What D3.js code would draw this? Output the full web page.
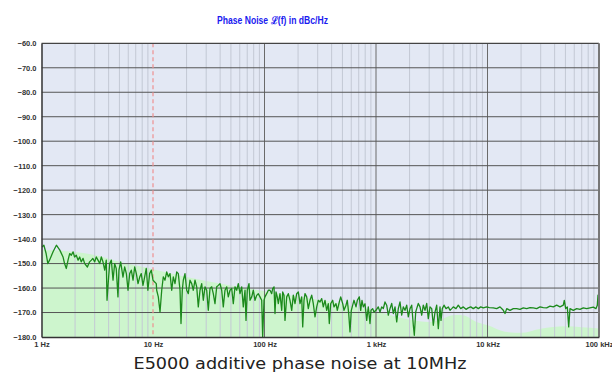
<!DOCTYPE html>
<html>
<head>
<meta charset="utf-8">
<script src="https://cdn.jsdelivr.net/npm/d3@7"></script>
<style>
  body { margin: 0; background: #fff; }
  svg { display: block; }
</style>
</head>
<body>
<svg id="chart" width="612" height="372"></svg>
<script>
// measured trace, offset frequency (Hz) and L(f) (dBc/Hz)
const traceFreq = [
  1.01, 1.05, 1.10, 1.14, 1.18, 1.27, 1.36, 1.46, 1.56, 1.61, 1.67, 1.73, 1.79, 1.85, 1.92, 1.98,
  2.05, 2.13, 2.2, 2.27, 2.36, 2.44, 2.58, 2.70, 2.80, 2.89, 3.0, 3.1, 3.21, 3.33, 3.44, 3.56,
  3.69, 3.81, 3.87, 4.0, 4.09, 4.23, 4.38, 4.53, 4.68, 4.85, 4.95, 5.13, 5.38, 5.57, 5.77, 5.97,
  6.18, 6.39, 6.62, 6.85, 7.09, 7.34, 7.6, 7.85, 8.13, 8.41, 8.7, 9.0, 9.33, 9.65, 10.0, 10.7,
  10.79, 11.16, 11.56, 11.97, 12.37, 12.81, 13.27, 13.72, 14.21, 14.72, 15.21, 15.75, 16.32, 16.86, 17.47, 17.83,
  18.31, 18.70, 19.36, 20.06, 20.73, 21.46, 22.24, 22.98, 23.81, 24.66, 25.48, 26.40, 27.34, 28.26, 29.27, 30.31,
  31.33, 32.45, 33.61, 34.73, 35.97, 37.26, 38.52, 39.90, 41.32, 42.71, 44.23, 45.81, 47.35, 49.05, 50.80, 52.51,
  54.38, 56.32, 58.21, 60.29, 62.44, 64.54, 66.86, 68.26, 70.1, 72.6, 74.1, 76.8, 79.4, 82.2, 85.1, 88.0,
  91.1, 94.4, 96.3, 99.0, 101.0, 104.6, 108.2,
  112.0, 116.0, 118.4, 121.7, 124.2, 126.8, 130.2, 133.0, 137.7, 142.7, 145.6, 149.6, 152.7, 158.2, 163.5, 169.3,
  175.4, 181.3, 187.7, 194.4, 201.0, 208.2, 215.6, 220.1, 226.1, 230.8, 239.0, 247.1, 255.9, 265.1, 274.0, 283.8,
  293.9, 303.8, 314.6, 325.9, 336.8, 348.8, 361.3, 373.4, 381.2, 392.3, 408.9, 420.1, 437.8, 449.7, 468.7, 482.5,
  502.9, 516.4, 538.2, 552.8, 569.1, 584.6, 600.6, 618.1, 634.9, 661.7, 679.8, 708.4, 729.2, 749.0, 769.4, 796.9,
  825.4, 853.0, 883.5, 902.0, 934.1, 959.6, 1000, 1048,
  1086, 1125, 1163, 1204, 1247, 1289, 1335, 1383, 1430, 1481, 1534, 1585, 1642, 1700, 1757, 1820,
  1885, 1949, 2018, 2091, 2161, 2206, 2270, 2317, 2395, 2481, 2570, 2656, 2751, 2850, 2945, 3050,
  3160, 3266, 3382, 3503, 3621, 3750, 3828, 3932, 4073, 4244, 4450, 4610, 4775, 4935, 5218, 5471,
  5750, 6067, 6417, 6727, 7070, 7457, 7887, 8270, 8690, 9170, 9835, 10380,
  11270, 12090, 12950, 13860, 14360, 14870, 15920, 17040, 18280, 19560, 20950, 22460, 24060, 25750, 27620, 29570,
  31650, 33950, 36350, 38920, 41740, 44690, 47840, 48840, 50270, 51960, 53480, 54950, 58830, 63100, 67530, 72310,
  77560, 83040, 88890, 93990, 96560, 97960, 99400
];
const traceDb = [
  -143.2, -142.5, -145.9, -150, -148.6, -145.2, -142.5, -144.5, -147.3, -150, -152, -148.6, -145.9, -146.6, -145.2, -147.3,
  -146.6, -148.6, -147.3, -149.3, -147.9, -150, -151.4, -149.3, -148.6, -147.9, -149.3, -147.3, -148.6, -150, -147.3, -149.3,
  -152.7, -148.6, -165, -155.5, -150, -148.6, -156.8, -150, -152, -163.6, -152.7, -149.3, -155.5, -151.4, -154.1, -160.9,
  -154.1, -152.7, -156.8, -151.4, -154.1, -158.2, -155.5, -154.1, -158.9, -155.5, -152, -160.9, -154.1, -152.7, -156.8, -158.2,
  -160.9, -163.6, -169.8, -160.9, -155.4, -156.8, -153.4, -155.4, -154.1, -160.9, -155.4, -158.2, -153.4, -154.1, -160.9, -174.5,
  -160.9, -156.8, -154.1, -160.9, -162.3, -156.8, -158.2, -160.9, -156.8, -159.5, -167.7, -160.9, -158.2, -165, -159.5, -160.9,
  -169.1, -160.2, -159.5, -162.3, -166.4, -159.5, -158.9, -158.2, -160.9, -167.7, -160.9, -159.5, -163.6, -160.9, -160.2, -166.4,
  -159.5, -160.9, -158.2, -162.3, -159.5, -167.7, -160.9, -173.2, -160.9, -158.2, -165, -163.6, -160.9, -165, -163, -162.3,
  -163.6, -165, -180, -165, -163.6, -162.3, -160.9,
  -160.9, -162.3, -160.2, -159.5, -170.4, -161.6, -163.6, -166.4, -162.3, -169.1, -161.6, -162.9, -173.2, -163.6, -162.3, -165,
  -169.1, -162.9, -166.4, -162.3, -161.6, -166.4, -163.6, -175.9, -165, -162.3, -163.6, -168.4, -165, -162.9, -166.4, -171.8,
  -167.7, -165, -165.7, -164.3, -167.7, -165, -169.1, -166.4, -174.5, -166.4, -165, -167.7, -166.4, -169.1, -165.7, -163.6,
  -166.4, -169.1, -167, -165, -170.4, -177.9, -169.1, -167, -165, -167.7, -165, -163.6, -169.1, -165, -167.7, -166.4,
  -173.2, -167.7, -174.5, -169.1, -168.4, -169.8, -169.1, -167.7,
  -169.8, -167.7, -168.4, -165.7, -167, -171.1, -168.4, -166.3, -170.4, -167.7, -173.8, -168.4, -165.7, -171.1, -167.7, -169.1,
  -167, -171.8, -168.4, -167, -175.2, -179.3, -169.8, -168.4, -166.3, -167.7, -171.1, -167, -169.1, -166.3, -172.5, -167.7,
  -168.4, -175.2, -169.8, -167, -176.6, -167.7, -173.2, -168.4, -167, -168.4, -167.7, -169.1, -168.4, -167.7, -168.4, -167,
  -168.4, -167.7, -168.7, -168.1, -167.7, -168.4, -167.7, -168.4, -167.7, -168.1, -167.7, -168,
  -168.1, -168.4, -167.7, -169.1, -170.4, -168.4, -169.1, -168.4, -168.4, -168.7, -168.1, -168.4, -168, -168.1, -168.4, -167.7,
  -168, -168.1, -167.4, -167.7, -167, -167.7, -167, -165, -168.4, -167.7, -175.9, -168.4, -169.1, -168.4, -168.7, -168.1,
  -168.4, -168.1, -167.8, -168.4, -167, -162.9, -167.7
];

// shaded reference floor
const floorFreq = [1, 2, 3, 5, 10, 20, 50, 100, 200, 500, 1000, 2000, 3000, 4000, 5000, 6000, 8000, 10000, 15000, 20000, 30000, 50000, 70000, 100000];
const floorDb = [-144.5, -145.3, -146.5, -149.3, -152.3, -155.5, -159, -161.3, -163.5, -166.5, -169.5, -173, -173.9, -172.4, -171, -171.1, -173.9, -175.2, -178, -178.3, -176.6, -175.6, -176, -176.5];

const yTicks = [-60, -70, -80, -90, -100, -110, -120, -130, -140, -150, -160, -170, -180];
const xTicks = [1, 10, 100, 1000, 10000, 100000];
const xTickLabels = ['1 Hz', '10 Hz', '100 Hz', '1 kHz', '10 kHz', '100 kHz'];
const markerFreq = 10;

const svg = d3.select('#chart');
const x = d3.scaleLog().domain([1, 1e5]).range([41.5, 599]);
const y = d3.scaleLinear().domain([-180, -60]).range([337, 43.3]);
const [x0, x1] = x.range();
const [yb, yt] = y.range();
const narrow = 'Liberation Sans, Arial, sans-serif';

svg.append('defs').append('clipPath').attr('id', 'plot-clip')
  .append('rect').attr('x', x0).attr('y', yt).attr('width', x1 - x0).attr('height', yb - yt);

svg.append('text')
  .attr('x', 272.5).attr('y', 24)
  .attr('text-anchor', 'middle')
  .attr('font-family', narrow)
  .attr('font-weight', 'bold').attr('font-size', 10.5)
  .attr('textLength', 111).attr('lengthAdjust', 'spacingAndGlyphs')
  .attr('fill', '#1a1af0')
  .text('Phase Noise \u2112(f) in dBc/Hz');

svg.append('rect')
  .attr('x', x0).attr('y', yt).attr('width', x1 - x0).attr('height', yb - yt)
  .attr('fill', '#e3e8f4');

const plot = svg.append('g').attr('clip-path', 'url(#plot-clip)');

// floor area
const area = d3.area()
  .x((d, i) => x(floorFreq[i]))
  .y0(yb)
  .y1(d => y(d))
  .curve(d3.curveMonotoneX);
plot.append('path').datum(floorDb).attr('d', area).attr('fill', '#cdf5cd');

// minor vertical grid
const minor = [];
for (let dec = 1; dec < 1e5; dec *= 10) {
  for (let k = 2; k <= 9; k++) minor.push(k * dec);
}
plot.selectAll('.minor').data(minor).enter().append('line')
  .attr('class', 'minor')
  .attr('x1', d => x(d)).attr('x2', d => x(d))
  .attr('y1', yt).attr('y2', yb)
  .attr('stroke', '#c3c8d4').attr('stroke-width', 1);

// decade lines (10 Hz carries the marker instead)
plot.selectAll('.major').data(xTicks.slice(1, -1).filter(d => d !== markerFreq)).enter().append('line')
  .attr('class', 'major')
  .attr('x1', d => x(d)).attr('x2', d => x(d))
  .attr('y1', yt).attr('y2', yb)
  .attr('stroke', '#6a6a6a').attr('stroke-width', 1);

// horizontal grid
plot.selectAll('.hgrid').data(yTicks.slice(1, -1)).enter().append('line')
  .attr('class', 'hgrid')
  .attr('x1', x0).attr('x2', x1)
  .attr('y1', d => y(d)).attr('y2', d => y(d))
  .attr('stroke', '#555').attr('stroke-width', 1);

// 10 Hz marker
plot.append('line')
  .attr('x1', x(markerFreq)).attr('x2', x(markerFreq))
  .attr('y1', yt).attr('y2', yb)
  .attr('stroke', '#ee8f8f').attr('stroke-width', 1.2)
  .attr('stroke-dasharray', '4,3');

// measured trace
const line = d3.line()
  .x((d, i) => x(traceFreq[i]))
  .y(d => y(d));
plot.append('path').datum(traceDb).attr('d', line)
  .attr('fill', 'none').attr('stroke', '#1c8a1c')
  .attr('stroke-width', 1.3).attr('stroke-linejoin', 'round');

// frame
svg.append('line').attr('x1', x0).attr('x2', x1).attr('y1', yt).attr('y2', yt)
  .attr('stroke', '#444').attr('stroke-width', 1.2);
svg.append('line').attr('x1', x1).attr('x2', x1).attr('y1', yt).attr('y2', yb)
  .attr('stroke', '#777').attr('stroke-width', 2);

const yAxis = svg.append('g')
  .attr('transform', `translate(${x0},0)`)
  .call(d3.axisLeft(y).tickValues(yTicks).tickSize(0).tickPadding(5).tickFormat(d3.format('.1f')));
const xAxis = svg.append('g')
  .attr('transform', `translate(0,${yb})`)
  .call(d3.axisBottom(x).tickValues(xTicks).tickSize(0).tickPadding(5)
    .tickFormat((d, i) => xTickLabels[i]));

[yAxis, xAxis].forEach(g => {
  g.select('.domain').attr('stroke', '#333').attr('stroke-width', 1.5);
  g.selectAll('text')
    .attr('font-family', narrow)
    .attr('font-weight', 'bold').attr('font-size', 7.5).attr('fill', '#333');
});

svg.append('text')
  .attr('x', 300).attr('y', 368.5)
  .attr('text-anchor', 'middle')
  .attr('font-family', 'DejaVu Sans, sans-serif')
  .attr('font-size', 15.5).attr('fill', '#222')
  .attr('textLength', 333).attr('lengthAdjust', 'spacingAndGlyphs')
  .text('E5000 additive phase noise at 10MHz');
</script>
</body>
</html>
